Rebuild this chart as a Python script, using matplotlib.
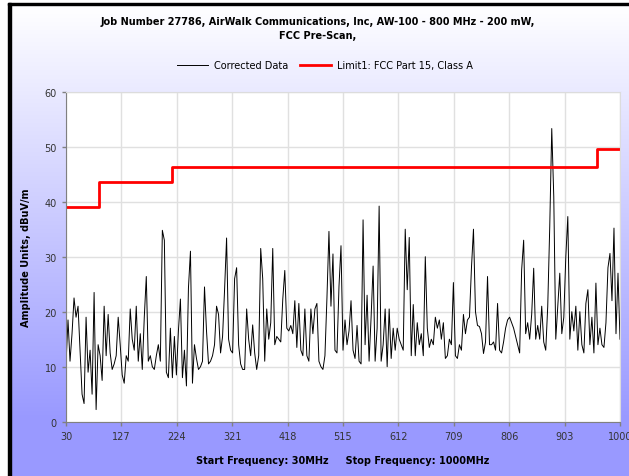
import numpy as np
import matplotlib
matplotlib.use("Agg")
import matplotlib.pyplot as plt
from matplotlib.patches import Rectangle

# Sweep: 30 MHz to 1000 MHz, corrected data in dBuV/m
start_freq = 30
stop_freq = 1000
corrected = [
    10.5, 18.5, 11, 16, 22.5, 19, 21, 13, 5, 3.3,
    19, 9, 13, 5, 23.5, 2.2, 14, 12, 7.5, 21,
    12, 19.5, 12.5, 9.5, 10.5, 12, 19, 14, 8.5, 7,
    12, 11, 20.5, 15, 13, 21, 11, 16, 9.5, 19,
    26.4, 11, 12, 10, 9.5, 12, 14, 11, 34.8, 33,
    9, 8, 17, 8, 15.5, 8.5, 16.5, 22.3, 8, 13,
    6.5, 24.3, 31, 7, 14, 11.5, 9.5, 10, 11, 24.5,
    16.5, 10.5, 11, 12, 14, 21, 19.5, 12.5, 15.5, 24,
    33.4, 15, 13, 12.5, 26, 28, 14, 10.5, 9.5, 9.5,
    20.5, 15, 12, 17.6, 12.5, 9.5, 12, 31.5, 26, 11,
    20.5, 15, 18, 31.5, 14, 15.5, 15, 14.5, 22.3, 27.5,
    17, 16.5, 17.5, 16, 22, 13.5, 21.5, 13, 12, 20.5,
    12, 11, 20.5, 16, 20.5, 21.5, 11, 10, 9.5, 12,
    22.5, 34.6, 21, 30.5, 13, 12.5, 24.6, 32, 13, 18.5,
    14, 16.5, 22, 13, 11.5, 17.5, 11, 10.5, 36.7, 14,
    23, 11, 19, 28.3, 11, 17, 39.2, 11, 14, 20.5,
    10, 20.5, 11.5, 17, 13, 17, 15, 14, 13, 35,
    24, 33.5, 12, 21.3, 12, 18, 14, 16, 12, 30,
    17, 13.5, 15, 14, 19, 17, 18.5, 15, 18, 11.5,
    12, 15, 14, 25.3, 12, 11.5, 14, 13, 19.5, 16,
    18.5, 19, 28, 35, 20, 17.5, 17.3, 16, 12.4, 14.5,
    26.4, 14, 14, 14.5, 13, 21.5, 13, 12.5, 14.5, 17,
    18.5, 19, 18, 17, 15.5, 14, 12.5, 27.6, 33, 16,
    18, 15, 19.5, 27.9, 15, 17.5, 15, 21, 14.5, 13,
    21, 35.5, 53.3, 41, 15, 21, 27, 16, 19, 30,
    37.3, 15, 20, 16.5, 21, 13, 20, 14, 12.5, 21.5,
    24, 14, 19, 12.5, 25.2, 14, 17, 14, 13.5, 18,
    28, 30.6, 22, 35.2, 16, 27, 15,
]

# FCC Part 15 Class A limit (step edges in MHz, level in dBuV/m)
limit_edges = [30, 88, 216, 960, 1000]
limit_levels = [39.1, 43.5, 46.4, 49.5, 49.5]

x_ticks = [30, 127, 224, 321, 418, 515, 612, 709, 806, 903, 1000]
y_ticks = [0, 10, 20, 30, 40, 50, 60]

freq = np.linspace(start_freq, stop_freq, len(corrected))

W, H = 629, 477
fig = plt.figure(figsize=(W / 100, H / 100), dpi=100)

# background gradient: white at top to light blue at the bottom
bg = fig.add_axes([0, 0, 1, 1], zorder=-10)
rows = np.arange(H)
t = np.clip((rows - 6) / (420 - 6), 0, 1)[:, None]
top_col = np.array([1.0, 1.0, 1.0])
bot_col = np.array([0.6, 0.6, 1.0])
grad = (top_col * (1 - t) + bot_col * t)[:, None, :]
bg.imshow(grad, aspect="auto", extent=[0, 1, 0, 1], origin="upper")
bg.set_axis_off()

# frame: white margin + black border on left and top
fig.patches.append(Rectangle((0, 0), 8 / W, 1, transform=fig.transFigure,
                             color="white", zorder=-5))
fig.patches.append(Rectangle((0, 1 - 4 / H), 1, 4 / H, transform=fig.transFigure,
                             color="white", zorder=-5))
fig.patches.append(Rectangle((8 / W, 0), 3 / W, 1 - 4 / H, transform=fig.transFigure,
                             color="black", zorder=-4))
fig.patches.append(Rectangle((8 / W, 1 - 6 / H), 1, 2 / H, transform=fig.transFigure,
                             color="black", zorder=-4))

ax = fig.add_axes([66 / W, 1 - 422.7 / H, (620 - 66) / W, (422.7 - 92.7) / H])
ax.set_facecolor("white")

ax.plot(freq, corrected, color="black", lw=0.7, label="Corrected Data")
ax.step(limit_edges, limit_levels, where="post", color="#ff0000", lw=2,
        label="Limit1: FCC Part 15, Class A")

ax.set_xlim(start_freq, stop_freq)
ax.set_ylim(0, 60)
ax.set_xticks(x_ticks)
ax.set_yticks(y_ticks)
ax.grid(True, color="#e0e0e0", lw=1)
ax.set_axisbelow(True)
ax.tick_params(labelsize=7, colors="#333333", length=3, width=1)
ax.tick_params(axis="both", color="#808080")
for s in ["left", "bottom"]:
    ax.spines[s].set_color("#808080")
for s in ["top", "right"]:
    ax.spines[s].set_color("#dcdcdc")

ax.set_ylabel("Amplitude Units, dBuV/m", fontsize=7, fontweight="bold", labelpad=10)
ax.set_xlabel("Start Frequency: 30MHz     Stop Frequency: 1000MHz",
              fontsize=7, fontweight="bold", labelpad=10)

fig.text(318 / W, 1 - 29 / H,
         "Job Number 27786, AirWalk Communications, Inc, AW-100 - 800 MHz - 200 mW,\nFCC Pre-Scan,",
         ha="center", va="center", fontsize=7, fontweight="bold", linespacing=1.5)

fig.legend(loc="center", bbox_to_anchor=(325 / W, 1 - 66 / H), ncol=2,
           frameon=False, fontsize=7, handlelength=3.2, columnspacing=1.2,
           handletextpad=0.6)

fig.savefig("out.png", dpi=100)
